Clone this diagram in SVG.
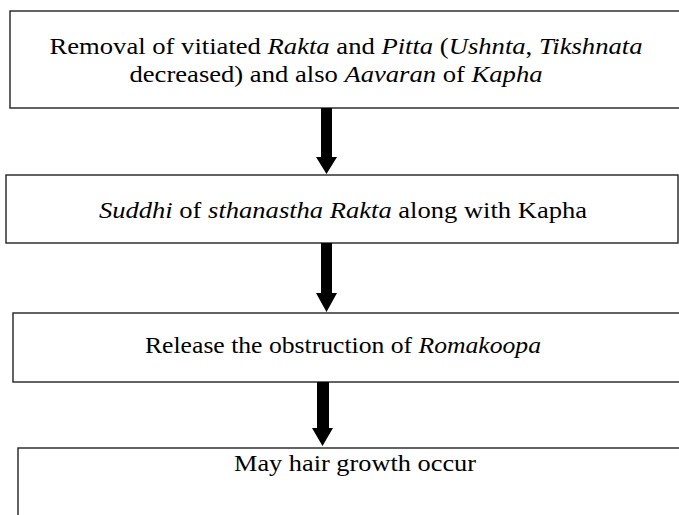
<svg xmlns="http://www.w3.org/2000/svg" width="679" height="515" viewBox="0 0 679 515">
<style>
.box{fill:#fff;stroke:#222;stroke-width:1.4}
.t{font-family:'Liberation Serif','Times New Roman',Times,serif;font-size:24px;fill:#000;text-anchor:middle}
.i{font-style:italic}
.arr{fill:#000}
</style>
<rect width="679" height="515" fill="#fff"/>
<g id="node1">
<rect class="box" x="10" y="11" width="690" height="97"/>
<text class="t" x="346" y="54" textLength="593" lengthAdjust="spacingAndGlyphs">Removal of vitiated <tspan class="i">Rakta</tspan> and <tspan class="i">Pitta</tspan> (<tspan class="i">Ushnta</tspan>, <tspan class="i">Tikshnata</tspan></text>
<text class="t" x="336" y="82" textLength="413" lengthAdjust="spacingAndGlyphs">decreased) and also <tspan class="i">Aavaran</tspan> of <tspan class="i">Kapha</tspan></text>
</g>
<g id="node2">
<rect class="box" x="6" y="175" width="672" height="68"/>
<text class="t" x="343" y="218" textLength="488" lengthAdjust="spacingAndGlyphs"><tspan class="i">Suddhi</tspan> of <tspan class="i">sthanastha Rakta</tspan> along with Kapha</text>
</g>
<g id="node3">
<rect class="box" x="13" y="313" width="690" height="69"/>
<text class="t" x="343" y="353" textLength="396" lengthAdjust="spacingAndGlyphs">Release the obstruction of <tspan class="i">Romakoopa</tspan></text>
</g>
<g id="node4">
<rect class="box" x="18" y="448" width="690" height="90"/>
<text class="t" x="355" y="471" textLength="242" lengthAdjust="spacingAndGlyphs">May hair growth occur</text>
</g>
<g id="connectors">
<polygon class="arr" points="321,108 332,108 332,157 337,157 326.5,174 316,157 321,157"/>
<polygon class="arr" points="321,243 332,243 332,293 337,293 326.5,312 316,293 321,293"/>
<polygon class="arr" points="317,382 329,382 329,428 333,428 322.5,446 312,428 317,428"/>
</g>
</svg>
